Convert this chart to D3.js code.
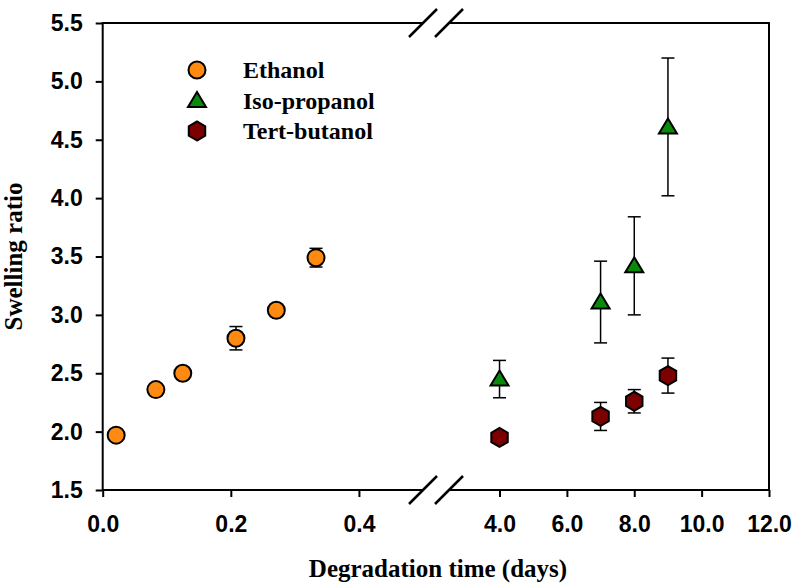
<!DOCTYPE html>
<html>
<head>
<meta charset="utf-8">
<script src="https://cdn.jsdelivr.net/npm/d3@7"></script>
<style>
  html, body { margin: 0; padding: 0; background: #fff; }
  svg { display: block; }
</style>
</head>
<body>
<svg id="chart" width="800" height="588"></svg>
<script>
// ---------- data ----------
const seriesNames = ["Ethanol", "Iso-propanol", "Tert-butanol"];

const ethanolTime  = [0.021, 0.083, 0.125, 0.208, 0.271, 0.333];
const ethanolRatio = [1.97, 2.36, 2.50, 2.80, 3.04, 3.49];
const ethanolErr   = [0.02, 0.02, 0.02, 0.10, 0.03, 0.08];

const isoTime  = [4, 7, 8, 9];
const isoRatio = [2.45, 3.11, 3.42, 4.61];
const isoErr   = [0.16, 0.35, 0.42, 0.59];

const tertTime  = [4, 7, 8, 9];
const tertRatio = [1.95, 2.13, 2.26, 2.48];
const tertErr   = [0.03, 0.12, 0.10, 0.15];

const xTicksLeft  = [0, 0.2, 0.4];
const xTicksRight = [4, 6, 8, 10, 12];
const yTicks = [1.5, 2.0, 2.5, 3.0, 3.5, 4.0, 4.5, 5.0, 5.5];

// ---------- layout ----------
const svg = d3.select("#chart");
const plotLeft = 102.7, plotRight = 769, plotTop = 23, plotBottom = 490;
const breakL = 423, breakR = 449;

const xLeft  = d3.scaleLinear().domain([0, 0.5]).range([plotLeft, breakL]);
const xRight = d3.scaleLinear().domain([2.5, 12]).range([breakR, plotRight]);
const y = d3.scaleLinear().domain([1.5, 5.5]).range([plotBottom, plotTop]);
const xPos = t => (t < 1 ? xLeft(t) : xRight(t));

const tickFont = "'Liberation Sans', Arial, sans-serif";
const serif = "'Liberation Serif', 'Times New Roman', serif";
const fmt = d3.format(".1f");

// ---------- axes ----------
function styleAxis(g, fs) {
  g.select(".domain").remove();
  g.selectAll(".tick line").attr("stroke", "#000").attr("stroke-width", 2);
  g.selectAll(".tick text")
    .attr("fill", "#000")
    .style("font-family", tickFont)
    .style("font-weight", "bold")
    .style("font-size", fs + "px");
}

svg.append("g")
  .attr("transform", `translate(0,${plotBottom})`)
  .call(d3.axisBottom(xLeft).tickValues(xTicksLeft).tickFormat(fmt).tickSize(7).tickPadding(19))
  .call(g => styleAxis(g, 23));

svg.append("g")
  .attr("transform", `translate(0,${plotBottom})`)
  .call(d3.axisBottom(xRight).tickValues(xTicksRight).tickFormat(fmt).tickSize(7).tickPadding(19))
  .call(g => styleAxis(g, 23));

svg.append("g")
  .attr("transform", `translate(${plotLeft},0)`)
  .call(d3.axisLeft(y).tickValues(yTicks).tickFormat(fmt).tickSize(7).tickPadding(13))
  .call(g => styleAxis(g, 23));

// frame lines (with break)
const frame = svg.append("g").attr("stroke", "#000").attr("stroke-width", 2).attr("fill", "none");
[plotTop, plotBottom].forEach(yy => {
  frame.append("line").attr("x1", plotLeft).attr("x2", xLeft(0.5)).attr("y1", yy).attr("y2", yy);
  frame.append("line").attr("x1", xRight(2.5)).attr("x2", plotRight).attr("y1", yy).attr("y2", yy);
  [xLeft(0.5), xRight(2.5)].forEach(cx => {
    frame.append("line")
      .attr("x1", cx - 14).attr("y1", yy + 14)
      .attr("x2", cx + 14).attr("y2", yy - 14)
      .attr("stroke-width", 2.5);
  });
});
frame.append("line").attr("x1", plotLeft).attr("x2", plotLeft).attr("y1", plotTop - 1).attr("y2", plotBottom + 1);
frame.append("line").attr("x1", plotRight).attr("x2", plotRight).attr("y1", plotTop - 1).attr("y2", plotBottom + 1);

// ---------- axis titles ----------
svg.append("text")
  .attr("x", 438).attr("y", 577)
  .attr("text-anchor", "middle")
  .style("font-family", serif).style("font-weight", "bold").style("font-size", "25px")
  .text("Degradation time (days)");

svg.append("text")
  .attr("transform", `translate(22,${(plotTop + plotBottom) / 2}) rotate(-90)`)
  .attr("text-anchor", "middle")
  .style("font-family", serif).style("font-weight", "bold").style("font-size", "25px")
  .text("Swelling ratio");

// ---------- markers ----------
function circlePath() { return d3.symbol(d3.symbolCircle, Math.PI * 8.5 * 8.5)(); }
function trianglePath() {
  const w = 18, h = 15;
  return `M0,${-h / 2 - 1}L${w / 2},${h / 2 - 1}L${-w / 2},${h / 2 - 1}Z`;
}
function hexPath() {
  const R = 9.5;
  const pts = d3.range(6).map(i => {
    const a = Math.PI / 2 + i * Math.PI / 3;
    return [R * Math.cos(a), R * Math.sin(a)];
  });
  return d3.line()(pts) + "Z";
}

const series = [
  { name: seriesNames[0], t: ethanolTime, v: ethanolRatio, e: ethanolErr, color: "#ff8a12", path: circlePath },
  { name: seriesNames[1], t: isoTime, v: isoRatio, e: isoErr, color: "#0a8a0a", path: trianglePath },
  { name: seriesNames[2], t: tertTime, v: tertRatio, e: tertErr, color: "#7d0000", path: hexPath }
];

const cap = 6.5;
series.forEach(s => {
  const pts = s.t.map((t, i) => ({ t, v: s.v[i], e: s.e[i] }));
  const eg = svg.append("g").attr("stroke", "#000").attr("stroke-width", 1.5);
  pts.forEach(p => {
    const cx = xPos(p.t);
    eg.append("line").attr("x1", cx).attr("x2", cx).attr("y1", y(p.v - p.e)).attr("y2", y(p.v + p.e));
    eg.append("line").attr("x1", cx - cap).attr("x2", cx + cap).attr("y1", y(p.v - p.e)).attr("y2", y(p.v - p.e));
    eg.append("line").attr("x1", cx - cap).attr("x2", cx + cap).attr("y1", y(p.v + p.e)).attr("y2", y(p.v + p.e));
  });
  svg.append("g").selectAll("path").data(pts).join("path")
    .attr("d", s.path())
    .attr("transform", p => `translate(${xPos(p.t)},${y(p.v)})`)
    .attr("fill", s.color)
    .attr("stroke", "#000")
    .attr("stroke-width", 2);
});

// ---------- legend ----------
const legend = svg.append("g").attr("transform", "translate(197,70)");
series.forEach((s, i) => {
  const g = legend.append("g").attr("transform", `translate(0,${i * 30.5})`);
  g.append("path").attr("d", s.path()).attr("fill", s.color).attr("stroke", "#000").attr("stroke-width", 2);
  g.append("text")
    .attr("x", 46).attr("y", 8)
    .style("font-family", serif).style("font-weight", "bold").style("font-size", "24px")
    .text(s.name);
});
</script>
</body>
</html>
